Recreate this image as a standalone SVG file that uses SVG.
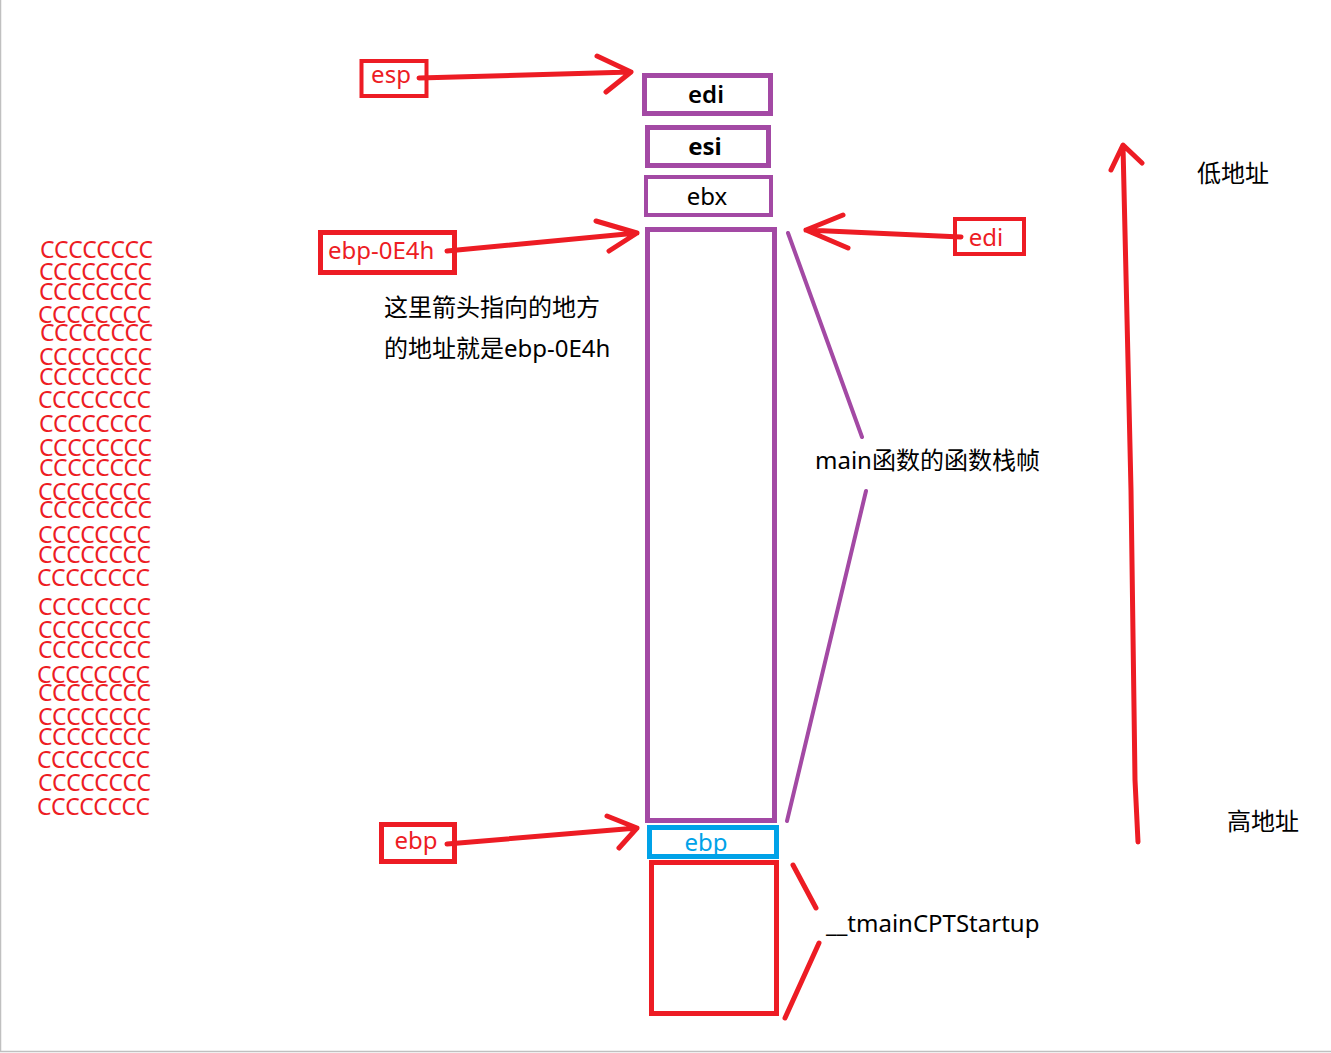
<svg xmlns="http://www.w3.org/2000/svg" width="1331" height="1053" viewBox="0 0 1331 1053">
<defs>
<style>
text{font-family:"Noto Sans","Noto Sans CJK SC",sans-serif;font-size:24px}
.r{fill:#ED1C24}.k{fill:#000}.b{fill:#00A2E8}
.c{text-anchor:middle}
.rb{fill:none;stroke:#ED1C24}
.pb{fill:none;stroke:#A349A4}
.ln{fill:none;stroke-linecap:round;stroke-linejoin:round}
.cc{fill:#ED1C24;font-size:23px}
</style>
</defs>
<rect width="1331" height="1053" fill="#fff"/>
<path d="M0.5 0V1051.5H1331" fill="none" stroke="#C0C0C0" stroke-width="1.5"/>

<g id="stack">
<g id="n-edi"><rect class="pb" x="644.5" y="75.5" width="126" height="38" stroke-width="5"/><text class="k c" x="706" y="103" font-weight="600">edi</text></g>
<g id="n-esi"><rect class="pb" x="647.5" y="127.5" width="121" height="38" stroke-width="5"/><text class="k c" x="705" y="155" font-weight="700">esi</text></g>
<g id="n-ebx"><rect class="pb" x="646" y="177" width="125" height="38" stroke-width="4"/><text class="k c" x="707" y="205">ebx</text></g>
<g id="n-frame"><rect class="pb" x="647.5" y="229.5" width="127" height="591" stroke-width="5"/></g>
<g id="n-ebp-slot"><rect fill="none" stroke="#00A2E8" x="649.5" y="827.5" width="127" height="29" stroke-width="5"/><text class="b c" x="706" y="851">ebp</text></g>
<g id="n-startup"><rect class="rb" x="651.5" y="862.5" width="125" height="151" stroke-width="5"/></g>
</g>

<g id="n-esp"><rect class="rb" x="361.5" y="61" width="65" height="35" stroke-width="4"/><text class="r c" x="391" y="83">esp</text></g>
<g id="n-ebp0e4h"><rect class="rb" x="320.5" y="232.5" width="134" height="40" stroke-width="5"/><text class="r" x="328" y="259">ebp-0E4h</text></g>
<g id="n-edi-r"><rect class="rb" x="955" y="219" width="69" height="35" stroke-width="4"/><text class="r c" x="986" y="246">edi</text></g>
<g id="n-ebp-l"><rect class="rb" x="381.5" y="824.5" width="73" height="37" stroke-width="5"/><text class="r c" x="416" y="849">ebp</text></g>

<g id="labels">
<text class="k" x="384" y="316">这里箭头指向的地方</text>
<text class="k" x="384" y="357">的地址就是ebp-0E4h</text>
<text class="k" x="815" y="469">main函数的函数栈帧</text>
<text class="k" x="826" y="932">__tmainCPTStartup</text>
<text class="k" x="1197" y="182">低地址</text>
<text class="k" x="1227" y="830">高地址</text>
</g>

<g id="connectors">
<g class="ln" stroke="#ED1C24" stroke-width="5">
<path d="M419 78L631 72M597 56L631 72L606 92"/>
<path d="M447 251L637 233M596 221L637 233L609 251"/>
<path d="M447 844L637 828M607 816L637 828L619 848"/>
<path d="M961 237L806 230M843 215L806 230L848 248"/>
<path d="M1138 842L1135 780L1131 490L1123 146M1111 170L1123 145L1142 163"/>
<path d="M793 865L816 908M819 943L785 1018"/>
</g>
<g class="ln" stroke="#A349A4" stroke-width="4">
<path d="M788 233L862 437M866 491L787 821"/>
</g>
</g>

<g id="fill-cccc">
<text class="cc" x="40" y="258">CCCCCCCC</text>
<text class="cc" x="39" y="280">CCCCCCCC</text>
<text class="cc" x="39" y="300">CCCCCCCC</text>
<text class="cc" x="38" y="323">CCCCCCCC</text>
<text class="cc" x="40" y="341">CCCCCCCC</text>
<text class="cc" x="39" y="365">CCCCCCCC</text>
<text class="cc" x="39" y="385">CCCCCCCC</text>
<text class="cc" x="38" y="408">CCCCCCCC</text>
<text class="cc" x="39" y="432">CCCCCCCC</text>
<text class="cc" x="39" y="456">CCCCCCCC</text>
<text class="cc" x="39" y="476">CCCCCCCC</text>
<text class="cc" x="38" y="500">CCCCCCCC</text>
<text class="cc" x="39" y="518">CCCCCCCC</text>
<text class="cc" x="38" y="543">CCCCCCCC</text>
<text class="cc" x="38" y="563">CCCCCCCC</text>
<text class="cc" x="37" y="586">CCCCCCCC</text>
<text class="cc" x="38" y="615">CCCCCCCC</text>
<text class="cc" x="38" y="638">CCCCCCCC</text>
<text class="cc" x="38" y="658">CCCCCCCC</text>
<text class="cc" x="37" y="683">CCCCCCCC</text>
<text class="cc" x="38" y="701">CCCCCCCC</text>
<text class="cc" x="38" y="725">CCCCCCCC</text>
<text class="cc" x="38" y="745">CCCCCCCC</text>
<text class="cc" x="37" y="768">CCCCCCCC</text>
<text class="cc" x="38" y="791">CCCCCCCC</text>
<text class="cc" x="37" y="815">CCCCCCCC</text>
</g>
</svg>
